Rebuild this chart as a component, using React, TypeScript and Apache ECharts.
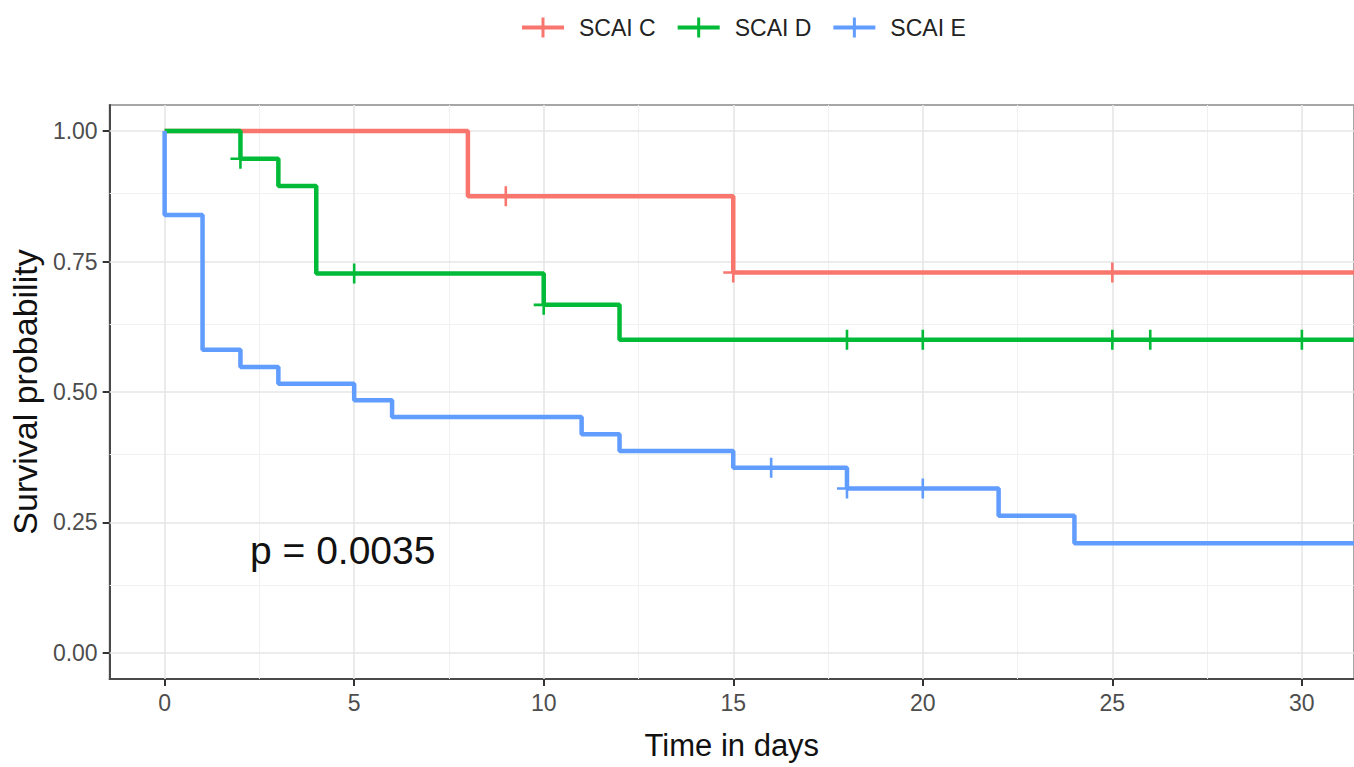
import React, { useEffect, useRef } from "react";
import * as echarts from "echarts";

// ---- Data ----
const seriesNames = ["SCAI C", "SCAI D", "SCAI E"];
const seriesColors = ["#F8766D", "#00BA38", "#619CFF"];

const scaiCTime = [0, 8, 15, 32];
const scaiCSurv = [1.0, 0.875, 0.729, 0.729];
const scaiCCensorTime = [9, 15, 25];
const scaiCCensorSurv = [0.875, 0.729, 0.729];

const scaiDTime = [0, 2, 3, 4, 10, 12, 32];
const scaiDSurv = [1.0, 0.947, 0.895, 0.727, 0.667, 0.6, 0.6];
const scaiDCensorTime = [2, 5, 10, 18, 20, 25, 26, 30];
const scaiDCensorSurv = [0.947, 0.727, 0.667, 0.6, 0.6, 0.6, 0.6, 0.6];

const scaiETime = [0, 0, 1, 2, 3, 5, 6, 11, 12, 15, 18, 22, 24, 32];
const scaiESurv = [1.0, 0.839, 0.581, 0.548, 0.516, 0.484, 0.452, 0.419, 0.387, 0.355, 0.315, 0.263, 0.21, 0.21];
const scaiECensorTime = [16, 18, 20];
const scaiECensorSurv = [0.355, 0.315, 0.315];

const xTicks = [0, 5, 10, 15, 20, 25, 30];
const xMinorGrid = [2.5, 7.5, 12.5, 17.5, 22.5, 27.5];
const yTicks = [0, 0.25, 0.5, 0.75, 1.0];
const yMinorGrid = [0.125, 0.375, 0.625, 0.875];
const pValueText = "p = 0.0035";

const FONT = "'Liberation Sans', Arial, Helvetica, sans-serif";
const plusIcon = "path://M0,8.7 H20 V11.3 H0 Z M8.7,0 H11.3 V20 H8.7 Z";
const legendIcon = "path://M0,8 H42 V12 H0 Z M19.5,0 H22.5 V20 H19.5 Z";

function zip(a: number[], b: number[]) {
  return a.map((v, i) => [v, b[i]]);
}

export default function App() {
  const ref = useRef<HTMLDivElement>(null);

  useEffect(() => {
    if (!ref.current) return;
    const chart = echarts.init(ref.current, null, { renderer: "svg" });

    const curves = [
      { t: scaiCTime, s: scaiCSurv, ct: scaiCCensorTime, cs: scaiCCensorSurv },
      { t: scaiDTime, s: scaiDSurv, ct: scaiDCensorTime, cs: scaiDCensorSurv },
      { t: scaiETime, s: scaiESurv, ct: scaiECensorTime, cs: scaiECensorSurv },
    ];

    const gridLineData: any[] = [
      ...xMinorGrid.map((v) => ({ xAxis: v, lineStyle: { color: "#f0f0f0", width: 1 } })),
      ...yMinorGrid.map((v) => ({ yAxis: v, lineStyle: { color: "#f0f0f0", width: 1 } })),
      ...xTicks.map((v) => ({ xAxis: v, lineStyle: { color: "#e6e6e6", width: 1.6 } })),
      ...yTicks.map((v) => ({ yAxis: v, lineStyle: { color: "#e6e6e6", width: 1.6 } })),
    ];

    const series: any[] = [
      {
        name: "gridlines",
        type: "line",
        data: [],
        z: 1,
        silent: true,
        markLine: {
          z: 1,
          silent: true,
          symbol: ["none", "none"],
          label: { show: false },
          lineStyle: { type: "solid" },
          data: gridLineData,
        },
      },
    ];

    curves.forEach((c, i) => {
      series.push({
        name: seriesNames[i],
        type: "line",
        step: "end",
        data: zip(c.t, c.s),
        showSymbol: false,
        symbol: "none",
        clip: true,
        z: 3 + i,
        lineStyle: { color: seriesColors[i], width: 4.5 },
        itemStyle: { color: seriesColors[i] },
      });
    });
    curves.forEach((c, i) => {
      series.push({
        name: seriesNames[i],
        type: "scatter",
        data: zip(c.ct, c.cs),
        symbol: plusIcon,
        symbolSize: 20,
        z: 3 + i,
        itemStyle: { color: seriesColors[i], opacity: 1 },
      });
    });

    chart.setOption({
      animation: false,
      backgroundColor: "#ffffff",
      textStyle: { fontFamily: FONT },
      legend: {
        data: seriesNames.map((n) => ({ name: n, icon: legendIcon })),
        left: 522,
        top: 16,
        itemWidth: 42,
        itemHeight: 20,
        itemGap: 22,
        padding: 0,
        textStyle: {
          fontSize: 23,
          color: "#222222",
          fontFamily: FONT,
          padding: [0, 0, 0, 10],
        },
      },
      grid: {
        left: 108,
        top: 105,
        right: -2,
        bottom: 88,
        show: true,
        borderColor: "#a6a6a6",
        borderWidth: 2,
        backgroundColor: "transparent",
      },
      xAxis: {
        type: "value",
        min: -1.45,
        max: 31.375,
        name: "Time in days",
        nameLocation: "middle",
        nameGap: 51,
        nameTextStyle: { fontSize: 31, color: "#111111", fontFamily: FONT },
        axisLine: { show: true, onZero: false, lineStyle: { color: "#4a4a4a", width: 2 } },
        axisTick: { show: true, customValues: xTicks, length: 7, lineStyle: { color: "#333333", width: 2 } },
        axisLabel: {
          customValues: xTicks,
          fontSize: 23,
          color: "#4d4d4d",
          margin: 12,
          fontFamily: FONT,
        },
        splitLine: { show: false },
      },
      yAxis: {
        type: "value",
        min: -0.05,
        max: 1.05,
        name: "Survival probability",
        nameLocation: "middle",
        nameGap: 62,
        nameTextStyle: { fontSize: 34, color: "#111111", fontFamily: FONT },
        axisLine: { show: true, onZero: false, lineStyle: { color: "#4a4a4a", width: 2 } },
        axisTick: { show: true, customValues: yTicks, length: 7, lineStyle: { color: "#333333", width: 2 } },
        axisLabel: {
          customValues: yTicks,
          fontSize: 23,
          color: "#4d4d4d",
          margin: 12,
          fontFamily: FONT,
          formatter: (v: number) => v.toFixed(2),
        },
        splitLine: { show: false },
      },
      graphic: [
        {
          type: "text",
          left: 250,
          top: 531,
          z: 10,
          style: { text: pValueText, fontSize: 39, fill: "#111111", fontFamily: FONT },
        },
      ],
      series,
    });

    return () => chart.dispose();
  }, []);

  return (
    <div
      ref={ref}
      style={{ position: "fixed", left: 0, top: 0, width: 1354, height: 767, background: "#fff" }}
    />
  );
}
